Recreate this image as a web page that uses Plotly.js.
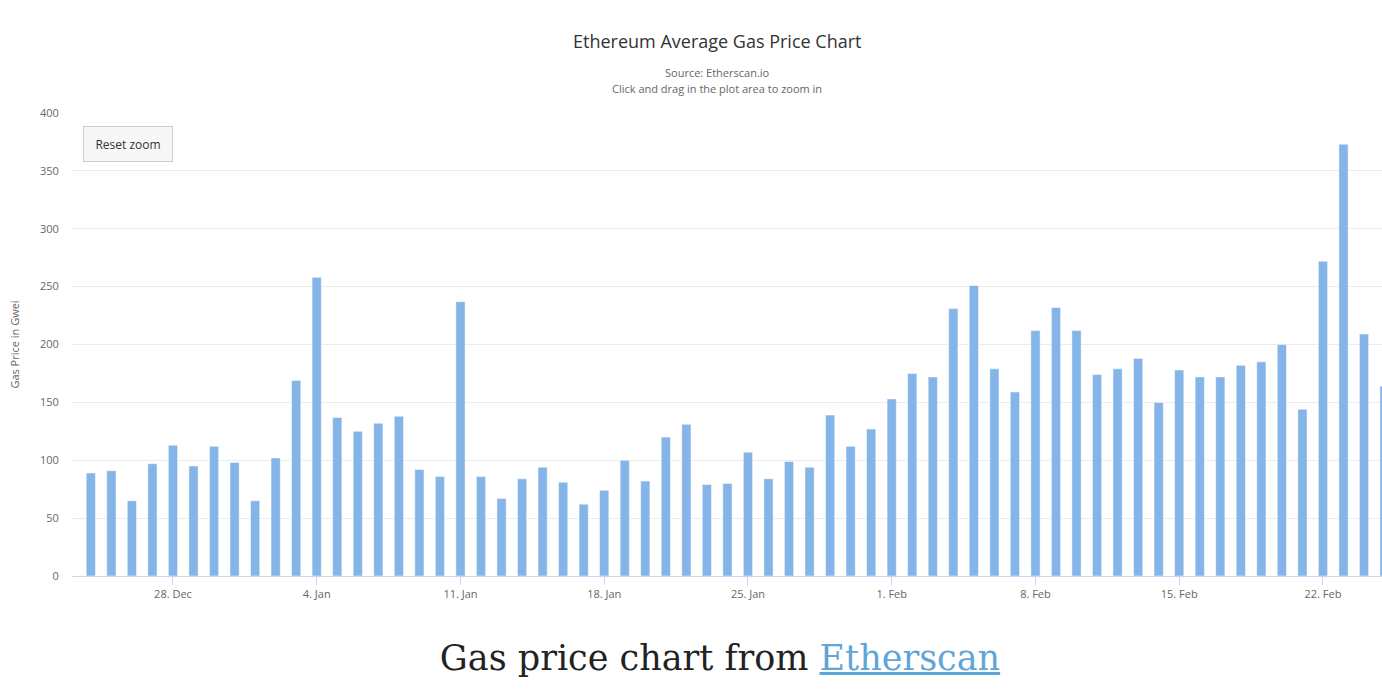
<!DOCTYPE html>
<html>
<head>
<meta charset="utf-8">
<script src="https://cdn.plot.ly/plotly-3.0.1.min.js"></script>
<style>
  html, body { margin: 0; padding: 0; background: #fff; }
  #chart { width: 1382px; height: 696px; }
  #caption {
    position: absolute; left: 0; top: 638px; width: 1440px;
    text-align: center; font-family: "DejaVu Serif", serif; font-size: 35px; color: #222;
  }
  #caption a { color: #5fa5d8; text-decoration: underline; }
</style>
</head>
<body>
<div id="chart"></div>
<div id="caption">Gas price chart from <a href="#">Etherscan</a></div>
<script>
// one bar per day, 24 Dec 2020 .. 25 Feb 2021
var firstDay = '2020-12-24';
var gasPrice = [
  89, 91, 65, 97, 113, 95, 112, 98,
  65, 102, 169, 258, 137, 125, 132, 138, 92, 86, 237, 86,
  67, 84, 94, 81, 62, 74, 100, 82, 120, 131,
  79, 80, 107, 84, 99, 94, 139, 112, 127,
  153, 175, 172, 231, 251, 179, 159, 212, 232, 212,
  174, 179, 188, 150, 178, 172, 172, 182, 185, 200,
  144, 272, 373, 209, 164
];
var tickDates = ['2020-12-28', '2021-01-04', '2021-01-11', '2021-01-18', '2021-01-25', '2021-02-01', '2021-02-08', '2021-02-15', '2021-02-22'];
var tickLabels = ['28. Dec', '4. Jan', '11. Jan', '18. Jan', '25. Jan', '1. Feb', '8. Feb', '15. Feb', '22. Feb'];

var DAY = 86400000;
var start = new Date(firstDay + 'T00:00:00Z').getTime();
var days = gasPrice.map(function (v, i) { return new Date(start + i * DAY).toISOString().slice(0, 10); });

var trace = {
  x: days,
  y: gasPrice,
  type: 'bar',
  width: 0.45 * DAY,
  marker: { color: '#85b4e8', line: { color: '#ffffff', width: 0.5 } },
  hoverinfo: 'x+y'
};

var layout = {
  width: 1382,
  height: 696,
  margin: { l: 72, r: 0, t: 113, b: 120 },
  paper_bgcolor: '#fff',
  plot_bgcolor: '#fff',
  font: { family: '"Open Sans", "DejaVu Sans", sans-serif', color: '#666' },
  showlegend: false,
  title: {
    text: 'Ethereum Average Gas Price Chart',
    font: { size: 18, color: '#333' },
    x: 0.519, xref: 'container', xanchor: 'center',
    y: 0.94, yref: 'container', yanchor: 'middle'
  },
  xaxis: {
    type: 'date',
    range: ['2020-12-23 02:00', '2021-02-24 21:00'],
    tickvals: tickDates,
    ticktext: tickLabels,
    tickfont: { size: 11, color: '#666' },
    ticks: 'outside', ticklen: 8, tickcolor: '#ccd6eb', tickwidth: 1,
    showline: true, linecolor: '#ccd6eb', linewidth: 1,
    showgrid: false, zeroline: false, fixedrange: true
  },
  yaxis: {
    range: [0, 400],
    dtick: 50,
    tickfont: { size: 11, color: '#666' },
    showgrid: true, gridcolor: '#ececec', gridwidth: 1,
    zeroline: false, showline: false,
    ticks: 'outside', ticklen: 10, tickcolor: 'rgba(0,0,0,0)',
    title: { text: 'Gas Price in Gwei', font: { size: 11, color: '#666' }, standoff: 18 },
    fixedrange: true
  },
  annotations: [
    { text: 'Source: Etherscan.io', xref: 'paper', yref: 'paper', x: (717 - 72) / 1310, y: (576 - 72) / 463,
      xanchor: 'center', yanchor: 'middle', showarrow: false, font: { size: 11, color: '#666' } },
    { text: 'Click and drag in the plot area to zoom in', xref: 'paper', yref: 'paper', x: (717 - 72) / 1310, y: (576 - 88) / 463,
      xanchor: 'center', yanchor: 'middle', showarrow: false, font: { size: 11, color: '#666' } },
    { text: 'Reset zoom', xref: 'paper', yref: 'paper', x: 11 / 1310, y: (576 - 126) / 463,
      xanchor: 'left', yanchor: 'top', showarrow: false, width: 84, height: 30,
      bgcolor: '#f7f7f7', bordercolor: '#cccccc', borderwidth: 1, borderpad: 2,
      font: { size: 12, color: '#333' } }
  ]
};

Plotly.newPlot('chart', [trace], layout, { displayModeBar: false });
</script>
</body>
</html>
